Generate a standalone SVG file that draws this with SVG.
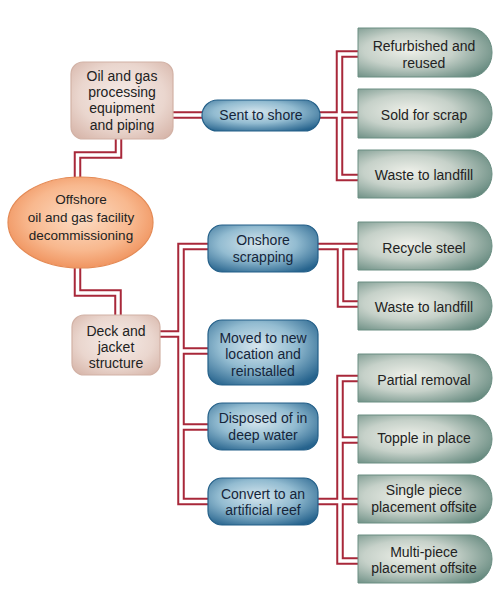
<svg xmlns="http://www.w3.org/2000/svg" width="500" height="608" viewBox="0 0 500 608">
<defs>
<radialGradient id="gBox" cx="0.38" cy="0.45" r="0.75">
<stop offset="0" stop-color="#eef0e9"/>
<stop offset="0.45" stop-color="#c6d1c9"/>
<stop offset="1" stop-color="#5a8176"/>
</radialGradient>
<radialGradient id="gPill" cx="0.45" cy="0.4" r="0.7">
<stop offset="0" stop-color="#d6e6ee"/>
<stop offset="0.5" stop-color="#93bcd1"/>
<stop offset="1" stop-color="#26638d"/>
</radialGradient>
<radialGradient id="gTan" cx="0.5" cy="0.45" r="0.7">
<stop offset="0" stop-color="#f6ece8"/>
<stop offset="0.6" stop-color="#ead6ce"/>
<stop offset="1" stop-color="#d6b4a8"/>
</radialGradient>
<radialGradient id="gOrange" cx="0.5" cy="0.45" r="0.6">
<stop offset="0" stop-color="#fcdcc4"/>
<stop offset="0.6" stop-color="#f8b88e"/>
<stop offset="1" stop-color="#ee8c55"/>
</radialGradient>
</defs>
<style>
.red{fill:none;stroke:#a8283a;stroke-width:7.5;stroke-linejoin:miter}
.wht{fill:none;stroke:#ffffff;stroke-width:3.5;stroke-linejoin:miter}
.box{fill:url(#gBox);stroke:#6a8e82;stroke-width:1}
.pill{fill:url(#gPill);stroke:#235f88;stroke-width:1.2}
.tan{fill:url(#gTan);stroke:#d2b2a6;stroke-width:1.2}
.orn{fill:url(#gOrange);stroke:#e48a55;stroke-width:1.2}
text{font-family:"Liberation Sans",Arial,sans-serif;font-size:14px;fill:#222;text-anchor:middle}
.pt{fill:#15253a}
.el{font-size:13.5px}
</style>
<rect width="500" height="608" fill="#ffffff"/>
<g id="connectors">
<g class="red">
<path d="M173 115H202"/>
<path d="M118.5 139V155H77.5V177"/>
<path d="M77.5 268V293H118V315"/>
<path d="M320 115H358"/>
<path d="M358 54H339.5V177.5H358"/>
<path d="M160 334H181"/>
<path d="M208 246.5H181V501.5H208"/>
<path d="M181 351H208"/>
<path d="M181 427H208"/>
<path d="M318 246.5H358"/>
<path d="M340.5 246.5V304H358"/>
<path d="M318 501.5H358"/>
<path d="M358 378.5H340V561H358"/>
<path d="M340 440H358"/>
</g>
<g class="wht">
<path d="M173 115H202"/>
<path d="M118.5 139V155H77.5V177"/>
<path d="M77.5 268V293H118V315"/>
<path d="M320 115H358"/>
<path d="M358 54H339.5V177.5H358"/>
<path d="M160 334H181"/>
<path d="M208 246.5H181V501.5H208"/>
<path d="M181 351H208"/>
<path d="M181 427H208"/>
<path d="M318 246.5H358"/>
<path d="M340.5 246.5V304H358"/>
<path d="M318 501.5H358"/>
<path d="M358 378.5H340V561H358"/>
<path d="M340 440H358"/>
</g>
</g>
<g id="node-oilgas">
<rect class="tan" x="71" y="62" width="102" height="77" rx="12"/>
<text x="122" y="81">Oil and gas</text>
<text x="122" y="97">processing</text>
<text x="122" y="113">equipment</text>
<text x="122" y="130">and piping</text>
</g>
<g id="node-offshore">
<ellipse class="orn" cx="80.5" cy="222.5" rx="72.5" ry="45.5"/>
<text class="el" x="81" y="204">Offshore</text>
<text class="el" x="81" y="222">oil and gas facility</text>
<text class="el" x="81" y="239.5">decommissioning</text>
</g>
<g id="node-deck">
<rect class="tan" x="72" y="315" width="88" height="60" rx="12"/>
<text x="116" y="336">Deck and</text>
<text x="116" y="352">jacket</text>
<text x="116" y="368">structure</text>
</g>
<g id="node-sent">
<rect class="pill" x="202" y="100" width="118" height="31" rx="15.5"/>
<text class="pt" x="261" y="120">Sent to shore</text>
</g>
<g id="node-onshore">
<rect class="pill" x="208" y="225" width="110" height="47" rx="14"/>
<text class="pt" x="263" y="245">Onshore</text>
<text class="pt" x="263" y="262">scrapping</text>
</g>
<g id="node-moved">
<rect class="pill" x="208" y="320" width="110" height="65" rx="14"/>
<text class="pt" x="263" y="343">Moved to new</text>
<text class="pt" x="263" y="359">location and</text>
<text class="pt" x="263" y="375.5">reinstalled</text>
</g>
<g id="node-disposed">
<rect class="pill" x="208" y="403" width="110" height="47" rx="14"/>
<text class="pt" x="263" y="423">Disposed of in</text>
<text class="pt" x="263" y="440">deep water</text>
</g>
<g id="node-convert">
<rect class="pill" x="208" y="478" width="110" height="47" rx="14"/>
<text class="pt" x="263" y="499">Convert to an</text>
<text class="pt" x="263" y="515">artificial reef</text>
</g>
<g id="node-refurbished">
<path class="box" d="M358 28H470A22 24 0 0 1 492 52V53A22 24 0 0 1 470 77H358Z"/>
<text x="424" y="50.5">Refurbished and</text>
<text x="424" y="67.5">reused</text>
</g>
<g id="node-scrap">
<path class="box" d="M358 89H470A22 24 0 0 1 492 113V114A22 24 0 0 1 470 138H358Z"/>
<text x="424" y="120">Sold for scrap</text>
</g>
<g id="node-landfill1">
<path class="box" d="M358 150H470A22 24 0 0 1 492 174V174A22 24 0 0 1 470 198H358Z"/>
<text x="424" y="180">Waste to landfill</text>
</g>
<g id="node-recycle">
<path class="box" d="M358 222H470A22 24 0 0 1 492 246V246A22 24 0 0 1 470 270H358Z"/>
<text x="424" y="252.5">Recycle steel</text>
</g>
<g id="node-landfill2">
<path class="box" d="M358 282H470A22 24 0 0 1 492 306V306A22 24 0 0 1 470 330H358Z"/>
<text x="424" y="311.5">Waste to landfill</text>
</g>
<g id="node-partial">
<path class="box" d="M358 354H470A22 24 0 0 1 492 378V378A22 24 0 0 1 470 402H358Z"/>
<text x="424" y="384.5">Partial removal</text>
</g>
<g id="node-topple">
<path class="box" d="M358 415H470A22 24 0 0 1 492 439V439A22 24 0 0 1 470 463H358Z"/>
<text x="424" y="443">Topple in place</text>
</g>
<g id="node-single">
<path class="box" d="M358 475H470A22 24 0 0 1 492 499V499A22 24 0 0 1 470 523H358Z"/>
<text x="424" y="495">Single piece</text>
<text x="424" y="512">placement offsite</text>
</g>
<g id="node-multi">
<path class="box" d="M358 535H470A22 24 0 0 1 492 559V559A22 24 0 0 1 470 583H358Z"/>
<text x="424" y="557">Multi-piece</text>
<text x="424" y="572.5">placement offsite</text>
</g>
</svg>
